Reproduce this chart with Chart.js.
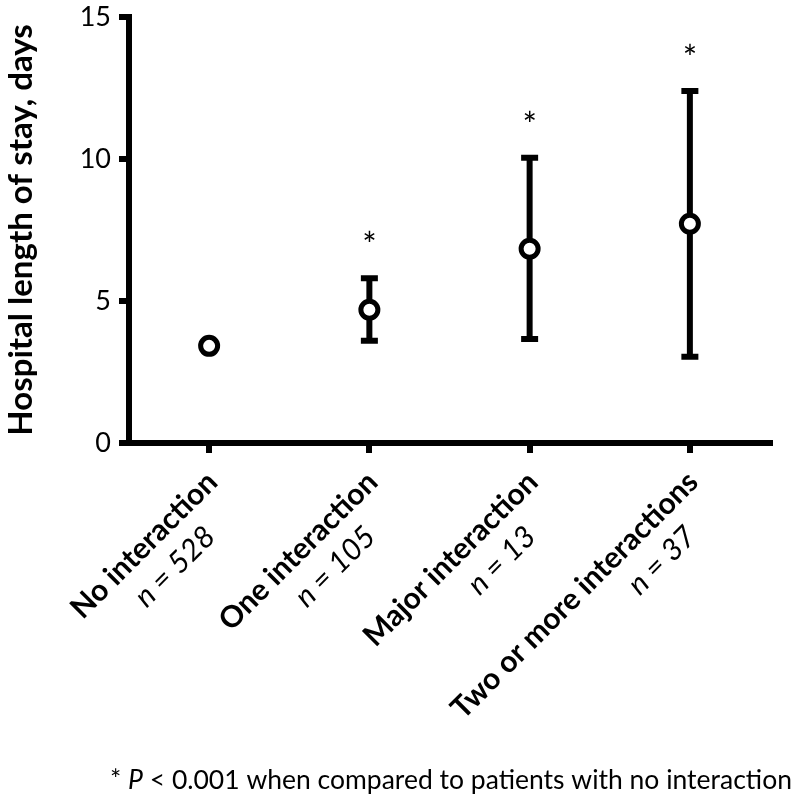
<!DOCTYPE html>
<html>
<head>
<meta charset="utf-8">
<script src="https://cdn.jsdelivr.net/npm/chart.js@4"></script>
<style>
  html, body { margin: 0; padding: 0; background: #fff; }
  #wrap { width: 795px; height: 805px; }
</style>
</head>
<body>
<div id="wrap"><canvas id="losChart" width="795" height="805"></canvas></div>
<script>
// values
const categories = ["No interaction", "One interaction", "Major interaction", "Two or more interactions"];
const sampleSizes = ["528", "105", "13", "37"];
const meanStay = [3.42, 4.69, 6.84, 7.72];
const lowerCI = [null, 3.60, 3.66, 3.04];
const upperCI = [null, 5.80, 10.04, 12.39];
const significant = [false, true, true, true];
const yTicks = [0, 5, 10, 15];

const FONT = "Lato, 'Open Sans', sans-serif";

// error bars under the markers
const errorBars = {
    id: "errorBars",
    beforeDatasetsDraw(chart) {
        const ctx = chart.ctx;
        const x = chart.scales.x, y = chart.scales.y;
        ctx.save();
        ctx.strokeStyle = "#000";
        ctx.lineWidth = 6;
        ctx.lineCap = "butt";
        categories.forEach((c, i) => {
            if (lowerCI[i] == null) return;
            const px = x.getPixelForValue(i);
            const lo = y.getPixelForValue(lowerCI[i]);
            const hi = y.getPixelForValue(upperCI[i]);
            ctx.beginPath();
            ctx.moveTo(px, lo); ctx.lineTo(px, hi);
            ctx.moveTo(px - 8.5, lo); ctx.lineTo(px + 8.5, lo);
            ctx.moveTo(px - 8.5, hi); ctx.lineTo(px + 8.5, hi);
            ctx.stroke();
        });
        ctx.restore();
    }
};

// asterisks, rotated two-line category labels and the footnote
const annotations = {
    id: "annotations",
    afterDraw(chart) {
        const ctx = chart.ctx;
        const x = chart.scales.x, y = chart.scales.y;
        ctx.save();
        ctx.fillStyle = "#000";

        ctx.font = "34px " + FONT;
        ctx.textAlign = "center";
        ctx.textBaseline = "alphabetic";
        categories.forEach((c, i) => {
            if (!significant[i]) return;
            const mid = y.getPixelForValue(upperCI[i]) - 37;
            ctx.fillText("*", x.getPixelForValue(i), mid + 16);
        });

        const base = chart.chartArea.bottom + 41;
        categories.forEach((c, i) => {
            ctx.save();
            ctx.translate(x.getPixelForValue(i) + 10, base);
            ctx.rotate(-Math.PI / 4);
            ctx.textAlign = "right";
            ctx.font = "bold 30px " + FONT;
            ctx.fillText(c, 0, 0);
            ctx.font = "italic 30px " + FONT;
            const rest = " = " + sampleSizes[i];
            ctx.fillText(rest, -40, 37);
            const w = ctx.measureText(rest).width;
            ctx.fillText("n", -40 - w, 37);
            ctx.restore();
        });

        // footnote: "* P < 0.001 when compared ..."
        ctx.textAlign = "left";
        let fx = 110;
        const fy = 789;
        const parts = [["* ", ""], ["P", "italic "], [" < 0.001 when compared to patients with no interaction", ""]];
        parts.forEach(([t, style]) => {
            ctx.font = style + "26.5px " + FONT;
            ctx.fillText(t, fx, fy);
            fx += ctx.measureText(t).width;
        });
        ctx.restore();
    }
};

new Chart(document.getElementById("losChart"), {
    type: "line",
    data: {
        labels: categories,
        datasets: [{
            data: meanStay,
            showLine: false,
            pointStyle: "circle",
            pointRadius: 8.5,
            pointHoverRadius: 8.5,
            pointBorderWidth: 5,
            pointBackgroundColor: "#fff",
            pointBorderColor: "#000"
        }]
    },
    options: {
        responsive: false,
        animation: false,
        layout: { padding: { top: 17, right: 25, bottom: 0, left: 0 } },
        plugins: { legend: { display: false }, tooltip: { enabled: false } },
        scales: {
            x: {
                type: "category",
                offset: true,
                grid: { display: true, drawOnChartArea: false, drawTicks: true, tickLength: 10, lineWidth: 6, color: "#000", offset: false },
                border: { display: true, width: 6, color: "#000" },
                ticks: { display: false },
                afterFit(scale) { scale.height = 362; scale.paddingLeft = 0; scale.paddingRight = 0; }
            },
            y: {
                min: 0,
                max: 15,
                afterBuildTicks(scale) { scale.ticks = yTicks.map(v => ({ value: v })); },
                grid: { display: true, drawOnChartArea: false, drawTicks: true, tickLength: 10, lineWidth: 6, color: "#000" },
                border: { display: true, width: 6, color: "#000" },
                ticks: { color: "#000", padding: 8, font: { family: FONT, size: 27 } },
                title: {
                    display: true,
                    text: "Hospital length of stay, days",
                    color: "#000",
                    padding: { top: 2, bottom: 0 },
                    font: { family: FONT, size: 33, weight: "bold" }
                },
                afterFit(scale) { scale.width = 129; scale.paddingTop = 0; scale.paddingBottom = 0; }
            }
        }
    },
    plugins: [errorBars, annotations]
});
</script>
</body>
</html>
